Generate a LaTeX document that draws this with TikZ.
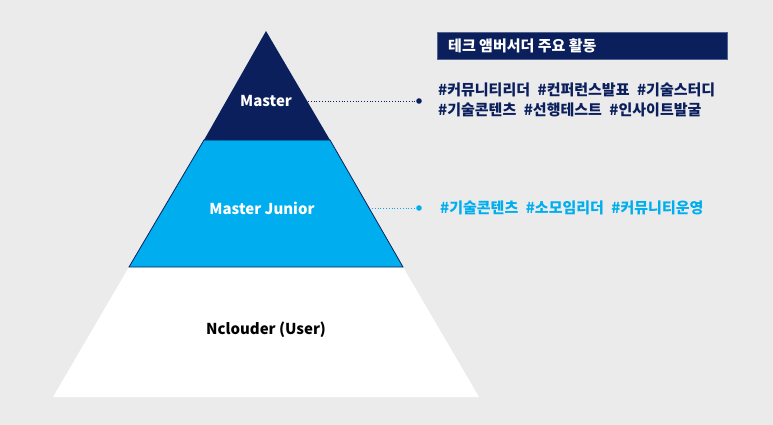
\documentclass[tikz,border=0pt]{standalone}
\usepackage{fontspec}
\setmainfont{Noto Sans CJK KR}
\definecolor{navy}{HTML}{0A1F5C}
\definecolor{cyanb}{HTML}{00AEEF}
\definecolor{bg}{HTML}{EBEBEB}
\begin{document}
\begin{tikzpicture}[x=1pt,y=-1pt,
  lbl/.style={font=\bfseries\fontsize{15}{17}\selectfont},
  tag/.style={font=\bfseries\fontsize{15}{17}\selectfont,anchor=west,inner sep=0}]
\fill[bg] (0,0) rectangle (773,425);
\useasboundingbox (0,0) rectangle (773,425);
\fill[white] (129,267) -- (403,267) -- (479,397) -- (53,397) -- cycle;
\filldraw[fill=cyanb,draw=navy,line width=0.8pt] (204,140) -- (330,140) -- (403,267) -- (129,267) -- cycle;
\fill[navy] (266,31) -- (330,140) -- (204,140) -- cycle;
\node[lbl,text=white] (m) at (266,101) {Master};
\node[lbl,text=white] (mj) at (262,208) {Master Junior};
\node[lbl,text=black] (nu) at (266,330) {Nclouder (User)};
\coordinate (ms) at (308,101);
\coordinate (me) at (419,101);
\coordinate (js) at (372,208);
\coordinate (je) at (419,208);
\draw[navy,dotted,line width=0.8pt] (ms) -- (me);
\fill[navy] (me) circle (2.8);
\draw[cyanb,dotted,line width=0.8pt] (js) -- (je);
\fill[cyanb] (je) circle (2.8);
\node[fill=navy,draw=navy!70,minimum width=290,minimum height=27,anchor=north west,inner sep=0] (hd) at (437,32) {};
\node[tag,text=white,font=\bfseries\fontsize{15}{17}\selectfont] (ht) at (448,45.5) {테크 앰버서더 주요 활동};
\node[tag,text=navy] (t1) at (438,90) {\#커뮤니티리더\enspace \#컨퍼런스발표\enspace \#기술스터디};
\node[tag,text=navy] (t2) at (438,110) {\#기술콘텐츠\enspace \#선행테스트\enspace \#인사이트발굴};
\node[tag,text=cyanb] (t3) at (440,208) {\#기술콘텐츠\enspace \#소모임리더\enspace \#커뮤니티운영};
\end{tikzpicture}
\end{document}
